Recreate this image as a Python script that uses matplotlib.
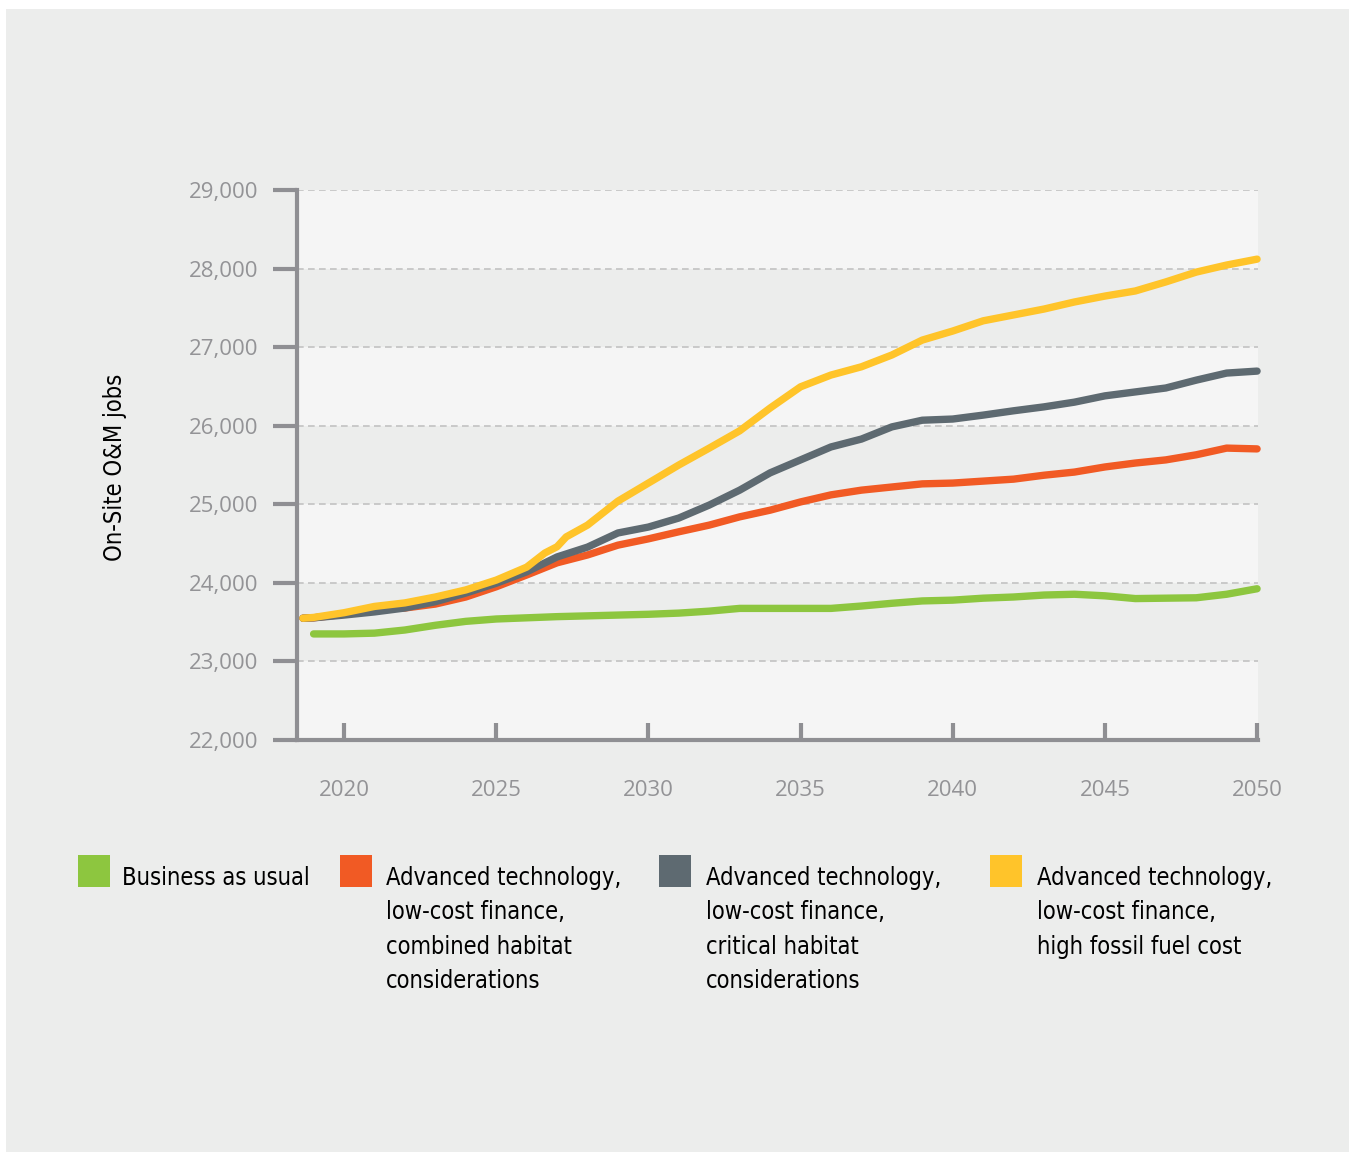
import matplotlib
matplotlib.use("Agg")
from matplotlib import pyplot as plt
from matplotlib.patches import Rectangle

# values (On-Site O&M jobs)
years_bau = [2019, 2020, 2021, 2022, 2023, 2024, 2025, 2026, 2027, 2028, 2029,
             2030, 2031, 2032, 2033, 2034, 2035, 2036, 2037, 2038, 2039, 2040,
             2041, 2042, 2043, 2044, 2045, 2046, 2047, 2048, 2049, 2050]
bau = [23350, 23350, 23360, 23400, 23460, 23510, 23540, 23555, 23570, 23580, 23590,
       23600, 23615, 23640, 23675, 23675, 23675, 23675, 23705, 23740, 23770, 23780,
       23805, 23820, 23845, 23855, 23835, 23800, 23805, 23810, 23855, 23925]

years_adv = [2018.65, 2019, 2020, 2021, 2022, 2023, 2024, 2025, 2026, 2027, 2028, 2029,
             2030, 2031, 2032, 2033, 2034, 2035, 2036, 2037, 2038, 2039, 2040,
             2041, 2042, 2043, 2044, 2045, 2046, 2047, 2048, 2049, 2050]
combined = [23550, 23555, 23600, 23670, 23680, 23730, 23820, 23950, 24100, 24255, 24355, 24480,
            24560, 24650, 24735, 24840, 24925, 25030, 25120, 25180, 25220, 25260, 25270,
            25295, 25320, 25370, 25410, 25475, 25525, 25565, 25630, 25715, 25705]
critical = [23550, 23555, 23590, 23630, 23680, 23760, 23870, 23995, 24140, 24330, 24455, 24635,
            24710, 24825, 24990, 25180, 25400, 25565, 25730, 25830, 25985, 26070, 26085,
            26135, 26190, 26240, 26300, 26380, 26430, 26480, 26580, 26670, 26695]

years_fossil = [2018.65, 2019, 2020, 2021, 2022, 2023, 2024, 2025, 2026, 2026.6, 2027, 2027.3,
                2028, 2029, 2030, 2031, 2032, 2033, 2034, 2035, 2036, 2037, 2038, 2039, 2040,
                2041, 2042, 2043, 2044, 2045, 2046, 2047, 2048, 2049, 2050]
fossil = [23550, 23560, 23620, 23700, 23745, 23820, 23910, 24035, 24200, 24380, 24460, 24585,
          24735, 25040, 25270, 25500, 25715, 25935, 26225, 26495, 26645, 26750, 26900, 27090, 27205,
          27335, 27410, 27485, 27575, 27650, 27715, 27830, 27955, 28045, 28120]

labels = ["Business as usual",
          "Advanced technology,\nlow-cost finance,\ncombined habitat\nconsiderations",
          "Advanced technology,\nlow-cost finance,\ncritical habitat\nconsiderations",
          "Advanced technology,\nlow-cost finance,\nhigh fossil fuel cost"]
colors = ["#8DC63F", "#F15A24", "#5E6A71", "#FFC42A"]

W, H = 1351, 1154
panel = "#ECEDEC"
light = "#F5F5F5"
axis_gray = "#8F8F93"
narrow = ["DejaVu Sans"]

fig = plt.figure(figsize=(W / 100, H / 100), dpi=100, facecolor="white")
fig.patches.append(Rectangle((6 / W, 1 - 1152 / H), 1343 / W, 1143 / H,
                             transform=fig.transFigure, facecolor=panel,
                             edgecolor="none", zorder=-10))

ax = fig.add_axes([297 / W, 1 - 740 / H, 961 / W, 550 / H])
ax.set_facecolor(panel)
for lo in [22000, 24000, 26000, 28000]:
    ax.axhspan(lo, lo + 1000, color=light, lw=0, zorder=0)

ax.set_xlim(2018.455, 2050.03)
ax.set_ylim(22000, 29000)
ax.set_yticks(range(22000, 29001, 1000))
ax.set_yticklabels([f"{v:,}" for v in range(22000, 29001, 1000)])
ax.set_xticks(range(2020, 2051, 5))
ax.yaxis.grid(True, linestyle=(0, (4, 2.6)), color="#C2C2C2", lw=1.2, zorder=1)
ax.set_axisbelow(True)

for s in ["top", "right"]:
    ax.spines[s].set_visible(False)
for s in ["left", "bottom"]:
    ax.spines[s].set_color(axis_gray)
    ax.spines[s].set_linewidth(3)
    ax.spines[s].set_capstyle("projecting")

ax.tick_params(axis="y", direction="out", length=17, width=3, color=axis_gray,
               pad=11, labelsize=16, labelcolor="#939396")
ax.tick_params(axis="x", direction="in", length=12, width=3, color=axis_gray,
               pad=29, labelsize=16, labelcolor="#939396")
for t in ax.get_xticklabels() + ax.get_yticklabels():
    t.set_fontfamily(["Open Sans", "DejaVu Sans"])

series = [(years_bau, bau), (years_adv, combined), (years_adv, critical),
          (years_fossil, fossil)]
draw_order = [0, 3, 2, 1]
for i in draw_order:
    xs, ys = series[i]
    ax.plot(xs, ys, color=colors[i], lw=5.3, solid_capstyle="round",
            solid_joinstyle="round", zorder=3 + i, clip_on=False)

fig.text(115 / W, 1 - 467 / H, "On-Site O&M jobs", rotation=90, ha="center",
         va="center", fontsize=17, family=narrow, fontstretch="condensed",
         color="black")

# legend
sq_x = [78, 340, 659, 990]
tx_x = [122, 386, 706, 1037]
for i in range(4):
    fig.patches.append(Rectangle((sq_x[i] / W, 1 - 887 / H), 32 / W, 32 / H,
                                 transform=fig.transFigure, facecolor=colors[i],
                                 edgecolor="none", zorder=2))
    fig.text(tx_x[i] / W, 1 - 866 / H, labels[i], ha="left", va="top",
             fontsize=17, family=narrow, fontstretch="condensed",
             color="black", linespacing=1.55)

fig.savefig("out.png", dpi=100, facecolor="white")
